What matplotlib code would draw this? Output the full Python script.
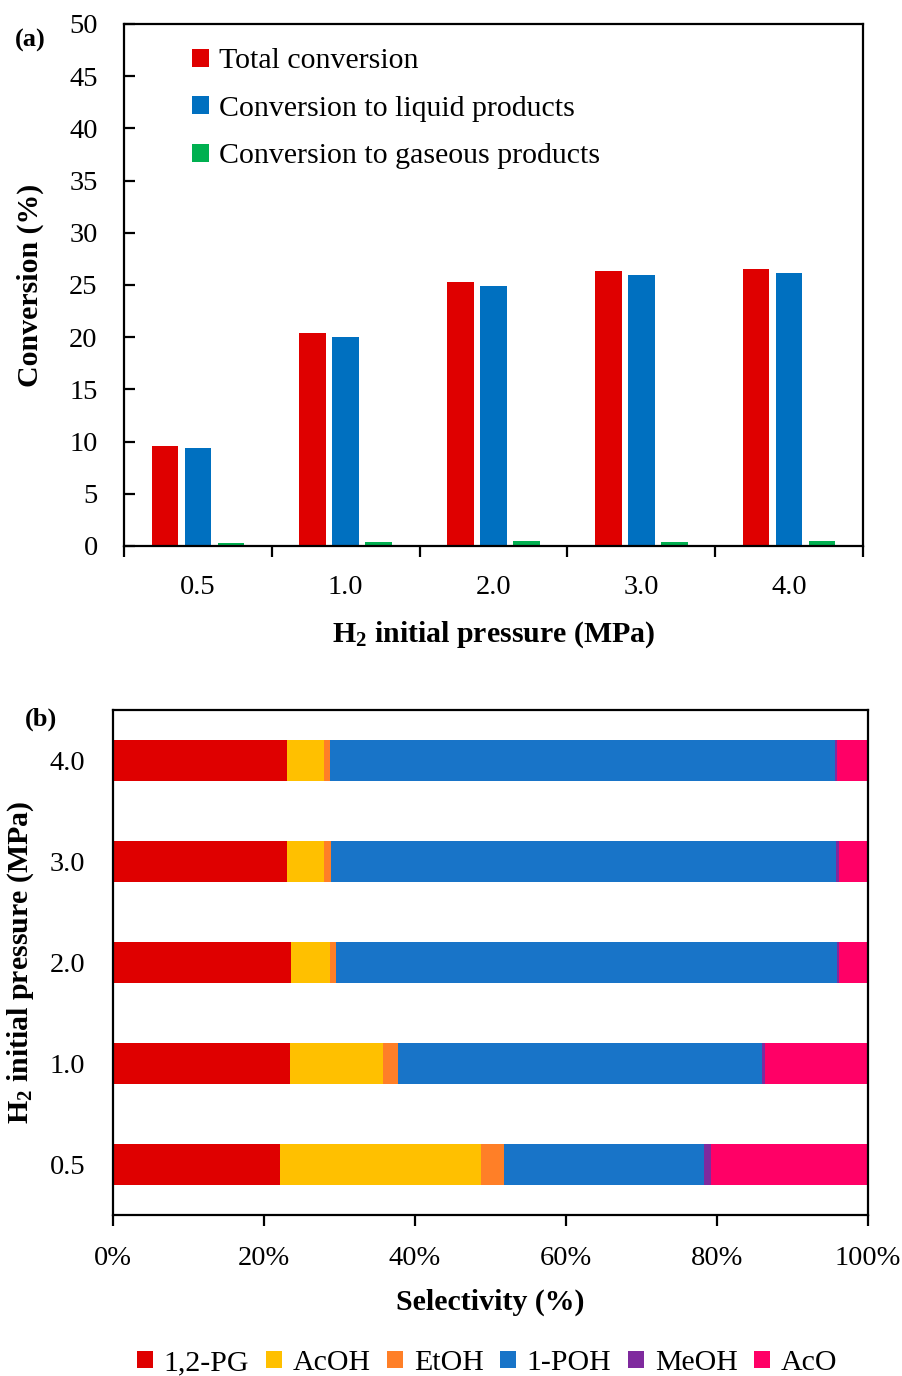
#!/usr/bin/env python3

import numpy as np
import matplotlib
matplotlib.use("Agg")
import matplotlib.pyplot as plt
from matplotlib.ticker import PercentFormatter

# Panel (a): conversion vs H2 initial pressure
pressures = ["0.5", "1.0", "2.0", "3.0", "4.0"]
total_conv = [9.6, 20.4, 25.3, 26.3, 26.5]
liquid_conv = [9.4, 20.0, 24.9, 26.0, 26.1]
gas_conv = [0.3, 0.4, 0.5, 0.4, 0.5]

# Panel (b): product selectivity (%), rows in order of pressures
products = ["1,2-PG", "AcOH", "EtOH", "1-POH", "MeOH", "AcO"]
selectivity = {
  "1,2-PG": [22.1, 23.4, 23.6, 23.0, 23.0],
  "AcOH":   [26.6, 12.4, 5.1, 4.9, 4.9],
  "EtOH":   [3.1, 1.9, 0.8, 1.0, 0.8],
  "1-POH":  [26.5, 48.2, 66.4, 66.9, 66.9],
  "MeOH":   [0.9, 0.5, 0.3, 0.3, 0.3],
  "AcO":    [20.8, 13.6, 3.8, 3.9, 4.1],
}

prod_colors = ["#DF0000", "#FFC000", "#FF7F27", "#1874C8", "#7F2A9E", "#FF0066"]

plt.rcParams['font.family'] = ['Liberation Serif', 'DejaVu Serif']
plt.rcParams['mathtext.fontset'] = 'custom'
plt.rcParams['mathtext.rm'] = 'Liberation Serif'
plt.rcParams['mathtext.bf'] = 'Liberation Serif:bold'
plt.rcParams['axes.linewidth'] = 1.6

TICK = 20.5
LAB = 21.5
LEG = 21.5

fig = plt.figure(figsize=(9.02, 13.76), dpi=100)

# ---- (a) ----
ax1 = fig.add_axes([0.1375, 0.6032, 0.8193, 0.3794])
x = np.arange(len(pressures))
w = 0.18
off = 0.223
ax1.bar(x - off, total_conv, w, color="#DF0000", label="Total conversion")
ax1.bar(x, liquid_conv, w, color="#0070C0", label="Conversion to liquid products")
ax1.bar(x + off, gas_conv, w, color="#00B050", label="Conversion to gaseous products")
ax1.set_xlim(-0.5, len(pressures) - 0.5)
ax1.set_ylim(0, 50)
ax1.set_yticks(np.arange(0, 51, 5))
ax1.set_xticks(x)
ax1.set_xticklabels(pressures)
ax1.set_xticks(np.arange(-0.5, len(pressures), 1), minor=True)
ax1.tick_params(axis='x', which='major', length=0, pad=21, labelsize=TICK)
ax1.tick_params(axis='x', which='minor', length=8, width=1.6, direction='out')
ax1.tick_params(axis='y', length=8, width=1.6, direction='in', labelsize=TICK, pad=19)
ax1.set_ylabel("Conversion (%)", fontsize=LAB, fontweight='bold', labelpad=18)
ax1.set_xlabel(r"$\mathbf{H_2}$ initial pressure (MPa)", fontsize=LAB,
               fontweight='bold', labelpad=14)
ax1.legend(loc='upper left', bbox_to_anchor=(0.056, 1.005), frameon=False,
           fontsize=LEG, handlelength=0.55, handleheight=0.55,
           handletextpad=0.35, labelspacing=0.72)
fig.text(0.016, 0.966, "(a)", fontsize=19, fontweight='bold')

# ---- (b) ----
ax2 = fig.add_axes([0.1253, 0.117, 0.837, 0.367])
y = np.arange(len(pressures))
left = np.zeros(len(pressures))
for name, col in zip(products, prod_colors):
  vals = np.array(selectivity[name])
  ax2.barh(y, vals, 0.4, left=left, color=col, label=name)
  left += vals
ax2.set_xlim(0, 100)
ax2.set_ylim(-0.5, len(pressures) - 0.5)
ax2.set_yticks(y)
ax2.set_yticklabels(pressures)
ax2.set_xticks(np.arange(0, 101, 20))
ax2.xaxis.set_major_formatter(PercentFormatter(decimals=0))
ax2.tick_params(axis='y', length=0, pad=20, labelsize=TICK)
ax2.tick_params(axis='x', length=8, width=1.6, direction='out', labelsize=TICK, pad=14)
ax2.set_xlabel("Selectivity (%)", fontsize=LAB, fontweight='bold', labelpad=13)
ax2.set_ylabel(r"$\mathbf{H_2}$ initial pressure (MPa)", fontsize=LAB,
               fontweight='bold', labelpad=10)
fig.text(0.028, 0.473, "(b)", fontsize=19, fontweight='bold')

h, l = ax2.get_legend_handles_labels()
fig.legend(h, l, loc='center', bbox_to_anchor=(0.54, 0.0094), ncol=6, frameon=False,
           fontsize=LEG, handlelength=0.55, handleheight=0.55,
           handletextpad=0.35, columnspacing=0.55)

fig.savefig("out.png", dpi=100)
